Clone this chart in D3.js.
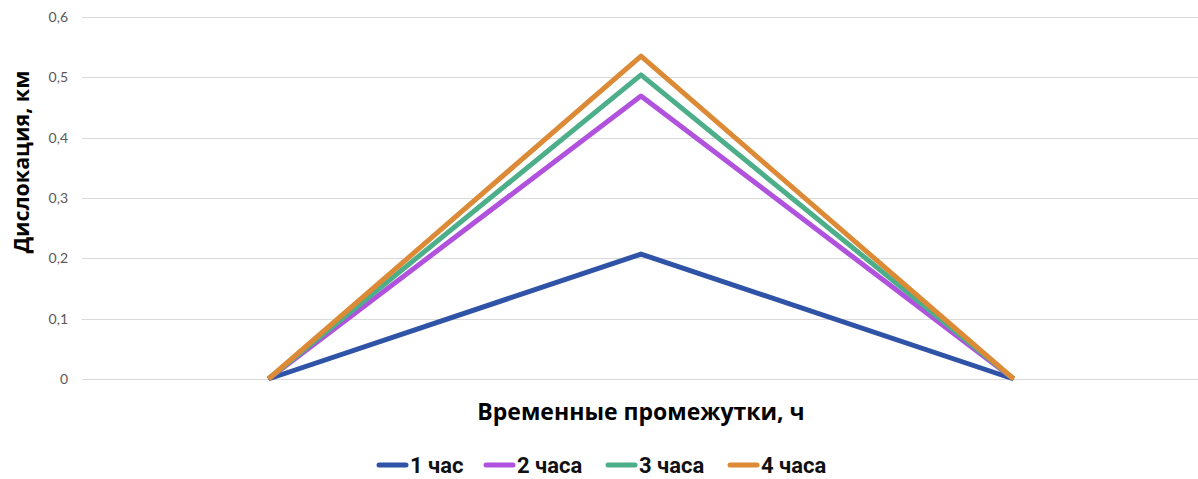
<!DOCTYPE html>
<html>
<head>
<meta charset="utf-8">
<script src="https://cdn.jsdelivr.net/npm/d3@7"></script>
<style>
  body { margin: 0; background: #fff; }
  svg { display: block; }
</style>
</head>
<body>
<div id="chart"></div>
<script>
var categories = ["1", "2", "3"];
var seriesNames = ["1 час", "2 часа", "3 часа", "4 часа"];
var seriesColors = ["#2f53a6", "#b052dd", "#4daf8a", "#dc8a35"];
var hour1 = [0, 0.207, 0];
var hour2 = [0, 0.469, 0];
var hour3 = [0, 0.504, 0];
var hour4 = [0, 0.535, 0];
var yTicks = [0, 0.1, 0.2, 0.3, 0.4, 0.5, 0.6];

var width = 1198, height = 479;
var margin = { top: 17, right: -2, bottom: 100, left: 82 };

var svg = d3.select("#chart").append("svg")
    .attr("width", width)
    .attr("height", height);

var x = d3.scalePoint()
    .domain(categories)
    .range([margin.left, width - margin.right])
    .padding(0.5);

var y = d3.scaleLinear()
    .domain([0, 0.6])
    .range([height - margin.bottom, margin.top]);

var fmt = function (d) { return d === 0 ? "0" : d3.format(".1f")(d).replace(".", ","); };

// grid
svg.append("g")
    .selectAll("line")
    .data(yTicks)
    .enter().append("line")
    .attr("x1", margin.left)
    .attr("x2", width)
    .attr("y1", function (d) { return Math.round(y(d)) + 0.5; })
    .attr("y2", function (d) { return Math.round(y(d)) + 0.5; })
    .attr("stroke", "#d9d9d9")
    .attr("stroke-width", 1);

svg.append("g")
    .selectAll("text")
    .data(yTicks)
    .enter().append("text")
    .attr("x", 68)
    .attr("y", function (d) { return y(d); })
    .attr("dy", "0.35em")
    .attr("text-anchor", "end")
    .style("font-family", "Lato, 'DejaVu Sans', sans-serif")
    .style("font-size", "14px")
    .style("fill", "#595959")
    .text(fmt);

// lines
var series = [hour1, hour2, hour3, hour4];
var line = d3.line()
    .x(function (d, i) { return x(categories[i]); })
    .y(function (d) { return y(d); });

svg.append("g")
    .selectAll("path")
    .data(series)
    .enter().append("path")
    .attr("d", line)
    .attr("fill", "none")
    .attr("stroke", function (d, i) { return seriesColors[i]; })
    .attr("stroke-width", 5)
    .attr("stroke-linejoin", "round");

// axis titles
svg.append("text")
    .attr("transform", "translate(29,162) rotate(-90)")
    .attr("text-anchor", "middle")
    .style("font-family", "'Open Sans', sans-serif")
    .style("font-weight", "bold")
    .style("font-size", "21.5px")
    .style("fill", "#000")
    .text("Дислокация, км");

svg.append("text")
    .attr("x", x("2"))
    .attr("y", 420)
    .attr("text-anchor", "middle")
    .style("font-family", "'Open Sans', sans-serif")
    .style("font-weight", "bold")
    .style("font-size", "23px")
    .style("fill", "#000")
    .text("Временные промежутки, ч");

// legend
var legendX = [377, 484, 606, 728];
var legend = svg.append("g")
    .selectAll("g")
    .data(seriesNames)
    .enter().append("g")
    .attr("transform", function (d, i) { return "translate(" + legendX[i] + ",465)"; });

legend.append("line")
    .attr("x1", 2).attr("x2", 29)
    .attr("y1", 0).attr("y2", 0)
    .attr("stroke", function (d, i) { return seriesColors[i]; })
    .attr("stroke-width", 5)
    .attr("stroke-linecap", "round");

legend.append("text")
    .attr("x", 33)
    .attr("y", 0)
    .attr("dy", "0.35em")
    .style("font-family", "Roboto, sans-serif")
    .style("font-weight", "bold")
    .style("font-size", "22px")
    .style("fill", "#111")
    .text(function (d) { return d; });
</script>
</body>
</html>
